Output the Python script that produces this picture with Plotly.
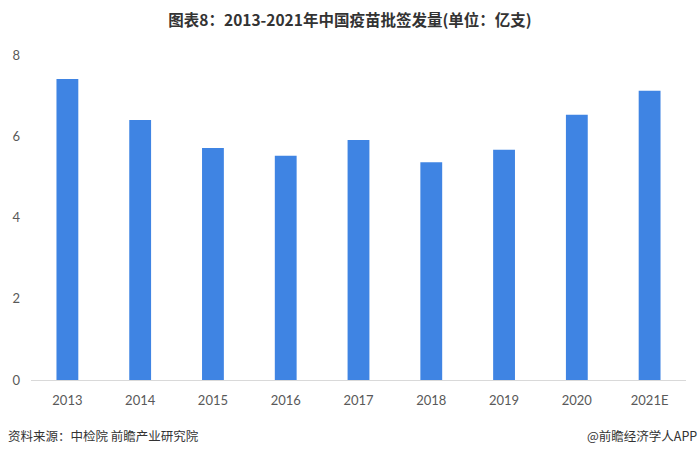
import plotly.graph_objects as go

years = ["2013", "2014", "2015", "2016", "2017", "2018", "2019", "2020", "2021E"]
values = [7.41, 6.40, 5.71, 5.52, 5.91, 5.36, 5.67, 6.53, 7.12]
y_ticks = [0, 2, 4, 6, 8]

fig = go.Figure(go.Bar(x=years, y=values, marker=dict(color="#3f84e3", line=dict(width=0)),
                       hoverinfo="x+y"))

fig.update_layout(
    width=700, height=455,
    margin=dict(l=28, r=14, t=55, b=75),
    paper_bgcolor="white", plot_bgcolor="white",
    bargap=0.7,
    showlegend=False,
    font=dict(family="Lato, Noto Sans CJK SC", color="#595959", size=13),
    title=dict(text="<b>图表8：2013-2021年中国疫苗批签发量(单位：亿支)</b>",
               x=0.5, xanchor="center", y=0.955, yanchor="middle",
               font=dict(family="Noto Sans CJK SC", size=15.5, color="#333333")),
)
fig.update_xaxes(showgrid=False, showline=True, linecolor="#d9d9d9", linewidth=1,
                 ticks="", ticklabelstandoff=8, tickfont=dict(size=13, color="#595959"))
fig.update_yaxes(range=[0, 8], tickvals=y_ticks, showgrid=False, zeroline=False,
                 showline=False, ticks="", ticklabelstandoff=10,
                 tickfont=dict(size=13, color="#595959"))

fig.add_annotation(text="资料来源：中检院 前瞻产业研究院", xref="paper", yref="paper",
                   x=-25/658, y=-55/325, xanchor="left", yanchor="middle", showarrow=False,
                   font=dict(family="Noto Sans CJK SC", size=12.5, color="#333333"))
fig.add_annotation(text="@前瞻经济学人APP", xref="paper", yref="paper",
                   x=(699-28)/658, y=-55/325, xanchor="right", yanchor="middle", showarrow=False,
                   font=dict(family="Noto Sans CJK SC", size=12.5, color="#333333"))

fig.write_html("out.html")
